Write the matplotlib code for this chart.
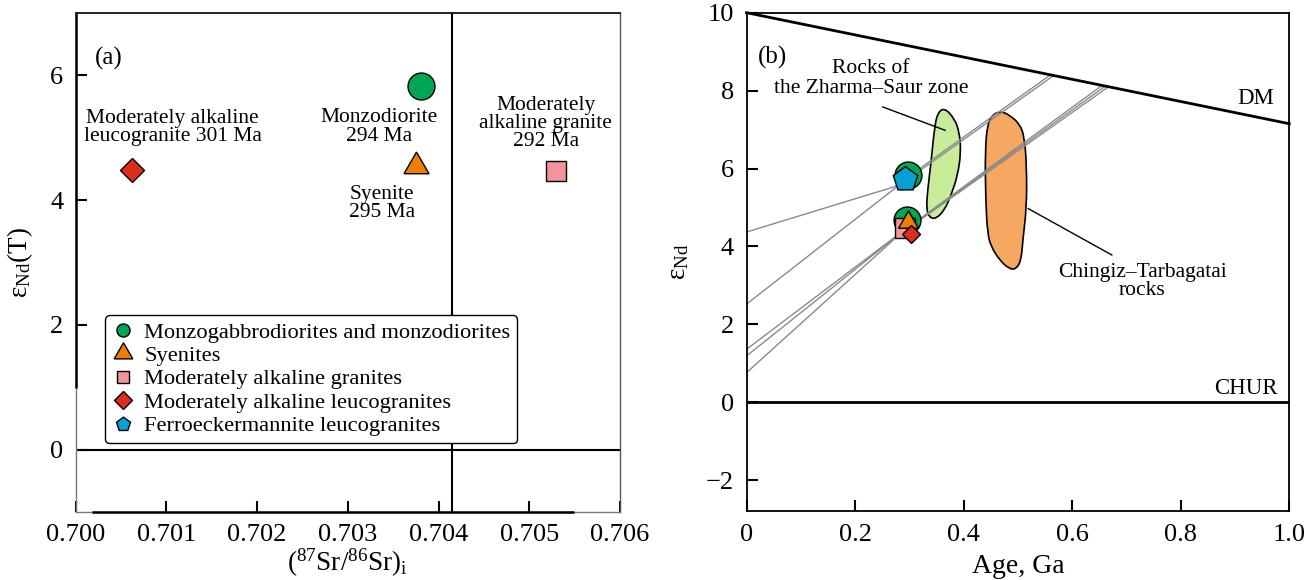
import matplotlib
matplotlib.use('Agg')
import matplotlib.pyplot as plt
from matplotlib.lines import Line2D
from matplotlib.path import Path
from matplotlib.patches import PathPatch

plt.rcParams['font.family'] = ['Liberation Serif', 'DejaVu Serif']
plt.rcParams['mathtext.fontset'] = 'custom'
plt.rcParams['mathtext.rm'] = 'Liberation Serif'
plt.rcParams['mathtext.it'] = 'Liberation Serif:italic'
plt.rcParams['mathtext.bf'] = 'Liberation Serif:bold'
plt.rcParams['axes.unicode_minus'] = True

# ---------------- data ----------------
legend_labels = ["Monzogabbrodiorites and monzodiorites", "Syenites",
                 "Moderately alkaline granites", "Moderately alkaline leucogranites",
                 "Ferroeckermannite leucogranites"]
colors = ["#00a651", "#f07f00", "#f4949a", "#dc2d1e", "#06a0d6"]

# panel (a): (87Sr/86Sr)i vs eNd(T)   order: circle, triangle, square, diamond
a_sr = [0.70381, 0.70375, 0.70529, 0.70062]
a_end = [5.82, 4.54, 4.47, 4.48]
a_text = ["Monzodiorite\n294 Ma", "Syenite\n295 Ma",
          "Moderately\nalkaline granite\n292 Ma",
          "Moderately alkaline\nleucogranite 301 Ma"]
a_sr_ref = 0.70415
a_end_ref = 0.0

# panel (b): age (Ga) vs eNd  order: upper circle, pentagon, lower circle, square, triangle, diamond
b_age = [0.297, 0.291, 0.296, 0.2925, 0.297, 0.303]
b_end = [5.83, 5.74, 4.67, 4.46, 4.63, 4.31]

dm_age = [0.0, 1.0]
dm_end = [10.0, 7.15]
chur_age = [0.0, 1.0]
chur_end = [0.0, 0.0]

evo_age = [[0.0, 0.272, 0.560], [0.0, 0.276, 0.566],
           [0.0, 0.279, 0.655], [0.0, 0.280, 0.661], [0.0, 0.281, 0.667]]
evo_end = [[4.37, 5.53, 8.404], [2.52, 5.52, 8.387],
           [1.36, 4.30, 8.133], [1.19, 4.30, 8.116], [0.76, 4.30, 8.099]]

zharma_age = [0.3646, 0.383, 0.392, 0.395, 0.389, 0.377, 0.3646, 0.349, 0.337,
              0.331, 0.334, 0.340, 0.346, 0.352]
zharma_end = [7.56, 7.28, 6.94, 6.43, 5.83, 5.32, 4.93, 4.71, 4.74,
              4.97, 5.49, 6.17, 7.03, 7.43]
chingiz_age = [0.469, 0.4844, 0.503, 0.512, 0.516, 0.516, 0.509, 0.506, 0.497,
               0.484, 0.466, 0.4507, 0.444, 0.4405, 0.4395, 0.444, 0.4536]
chingiz_end = [7.47, 7.37, 7.15, 6.81, 6.04, 5.02, 4.16, 3.65, 3.42,
               3.42, 3.65, 3.99, 4.33, 5.19, 6.47, 7.15, 7.39]


def smooth_closed(xs, ys):
    pts = list(zip(xs, ys))
    n = len(pts)
    mids = [((pts[i][0] + pts[(i + 1) % n][0]) / 2, (pts[i][1] + pts[(i + 1) % n][1]) / 2)
            for i in range(n)]
    verts = [mids[-1]]
    codes = [Path.MOVETO]
    for i in range(n):
        verts += [pts[i], mids[i]]
        codes += [Path.CURVE3, Path.CURVE3]
    verts.append(mids[-1])
    codes.append(Path.CLOSEPOLY)
    return Path(verts, codes)


fig = plt.figure(figsize=(13.13, 5.8), dpi=100)
ax1 = fig.add_axes([0.05765, 0.11776, 0.41455, 0.86034])
ax2 = fig.add_axes([0.56862, 0.11845, 0.41333, 0.85966])

# ---------------- panel (a) ----------------
ax1.set_xlim(0.700, 0.706)
ax1.set_ylim(-0.99, 7.0)
ax1.axvline(a_sr_ref, color='k', lw=1.5, zorder=1)
ax1.axhline(a_end_ref, color='k', lw=1.5, zorder=1)

ax1.plot(a_sr[0], a_end[0], 'o', ms=19.4, mfc=colors[0], mec='k', mew=1.0, zorder=3)
ax1.plot(a_sr[1], a_end[1], marker=(3, 0, 0), ms=20.8, mfc=colors[1], mec='k', mew=1.0, zorder=3, ls='none')
ax1.plot(a_sr[2], a_end[2], 's', ms=14.4, mfc=colors[2], mec='k', mew=1.0, zorder=3)
ax1.plot(a_sr[3], a_end[3], 'D', ms=12.2, mfc=colors[3], mec='k', mew=1.0, zorder=3)

txt_kw = dict(fontsize=15.5, ha='center', va='center', linespacing=0.93)
ax1.text(0.70334, 5.17, a_text[0], **txt_kw)
ax1.text(0.70338, 3.95, a_text[1], **txt_kw)
ax1.text(0.70518, 5.23, a_text[2], **txt_kw)
ax1.text(0.70107, 5.155, a_text[3], **txt_kw)
ax1.text(0.70036, 6.27, "(a)", fontsize=18, ha='center', va='center')

ax1.set_xticks([0.700, 0.701, 0.702, 0.703, 0.704, 0.705, 0.706])
ax1.set_xticklabels(["0.700", "0.701", "0.702", "0.703", "0.704", "0.705", "0.706"])
ax1.set_yticks([0, 2, 4, 6])
ax1.tick_params(direction='in', length=8, width=1.5, labelsize=19, pad=9,
                top=False, right=False)
for s in ['left', 'bottom']:
    ax1.spines[s].set_color('#777777')
    ax1.spines[s].set_linewidth(1.0)
ax1.spines['top'].set_linewidth(1.2)
ax1.spines['right'].set_color('#555555')
ax1.spines['right'].set_linewidth(1.0)
ax1.plot([0.70018, 0.70549], [0, 0], color='k', lw=1.8, transform=ax1.get_xaxis_transform(),
         clip_on=False, zorder=5, solid_capstyle='butt')
ax1.plot([0, 0], [0.99, 7.0], color='k', lw=1.8, transform=ax1.get_yaxis_transform(),
         clip_on=False, zorder=5, solid_capstyle='butt')

ax1.set_xlabel(r"($^{87}$Sr/$^{86}$Sr)$_{\mathrm{i}}$", fontsize=19.5)
ax1.xaxis.set_label_coords(0.5, -0.07)
ax1.set_ylabel(r"ε$_{\mathrm{Nd}}$(T)", fontsize=19.5)
ax1.yaxis.set_label_coords(-0.075, 0.5)

handles = [
    Line2D([], [], ls='none', marker='o', ms=9.4, mfc=colors[0], mec='k', mew=1.0),
    Line2D([], [], ls='none', marker=(3, 0, 0), ms=15.5, mfc=colors[1], mec='k', mew=1.0),
    Line2D([], [], ls='none', marker='s', ms=9.1, mfc=colors[2], mec='k', mew=1.0),
    Line2D([], [], ls='none', marker='D', ms=9.4, mfc=colors[3], mec='k', mew=1.0),
    Line2D([], [], ls='none', marker=(5, 0, 0), ms=10.6, mfc=colors[4], mec='k', mew=1.0),
]
leg = ax1.legend(handles, legend_labels, loc='upper left', bbox_to_anchor=(0.054, 0.394),
                 fontsize=16.2, frameon=True, fancybox=True, framealpha=1, edgecolor='k',
                 borderpad=0.3, labelspacing=0.12, handlelength=0.95, handletextpad=0.5,
                 borderaxespad=0.0)
leg.get_frame().set_linewidth(1.0)
leg.set_zorder(6)

# ---------------- panel (b) ----------------
ax2.set_xlim(0, 1.0)
ax2.set_ylim(-2.8, 10)

ax2.add_patch(PathPatch(smooth_closed(zharma_age, zharma_end), fc='#c8ec9a', ec='k', lw=1.2, zorder=1))
ax2.add_patch(PathPatch(smooth_closed(chingiz_age, chingiz_end), fc='#f4a862', ec='k', lw=1.2, zorder=1))

for xs, ys in zip(evo_age, evo_end):
    ax2.plot(xs, ys, color='#8a8a8a', lw=1.0, zorder=2)

ax2.plot(dm_age, dm_end, color='k', lw=2.0, zorder=2, clip_on=False)
ax2.plot(chur_age, chur_end, color='k', lw=2.0, zorder=2)

mk = dict(mec='k', mew=1.0, ls='none', zorder=4)
ax2.plot(b_age[0], b_end[0], marker='o', ms=19.4, mfc=colors[0], **mk)
ax2.plot(b_age[1], b_end[1], marker=(5, 0, 0), ms=18.5, mfc=colors[4], **mk)
ax2.plot(b_age[2], b_end[2], marker='o', ms=19.4, mfc=colors[0], **mk)
ax2.plot(b_age[3], b_end[3], marker='s', ms=14.0, mfc=colors[2], **mk)
ax2.plot(b_age[4], b_end[4], marker=(3, 0, 0), ms=16.6, mfc=colors[1], **mk)
ax2.plot(b_age[5], b_end[5], marker='D', ms=8.7, mfc=colors[3], **mk)

ax2.text(0.0476, 8.86, "(b)", fontsize=18, ha='center', va='center')
ax2.text(0.939, 7.80, "DM", fontsize=16.5, ha='center', va='center')
ax2.text(0.920, 0.36, "CHUR", fontsize=16.5, ha='center', va='center')
ax2.text(0.2296, 8.56, "Rocks of", **txt_kw)
ax2.text(0.2296, 8.05, "the Zharma\u2013Saur zone", **txt_kw)
ax2.plot([0.251, 0.366], [7.58, 6.98], color='k', lw=1.0, zorder=3)
ax2.text(0.729, 3.09, "Chingiz\u2013Tarbagatai\nrocks", **txt_kw)
ax2.plot([0.519, 0.673], [4.97, 3.78], color='k', lw=1.0, zorder=3)

ax2.set_xticks([0, 0.2, 0.4, 0.6, 0.8, 1.0])
ax2.set_xticklabels(["0", "0.2", "0.4", "0.6", "0.8", "1.0"])
ax2.set_yticks([-2, 0, 2, 4, 6, 8, 10])
ax2.tick_params(direction='in', length=8, width=1.5, labelsize=19, pad=9,
                top=False, right=False)
for s in ax2.spines.values():
    s.set_linewidth(1.3)
ax2.set_xlabel("Age, Ga", fontsize=20)
ax2.xaxis.set_label_coords(0.5, -0.085)
ax2.set_ylabel(r"ε$_{\mathrm{Nd}}$", fontsize=19.5)
ax2.yaxis.set_label_coords(-0.1025, 0.5)

fig.savefig("out.png", dpi=100)
